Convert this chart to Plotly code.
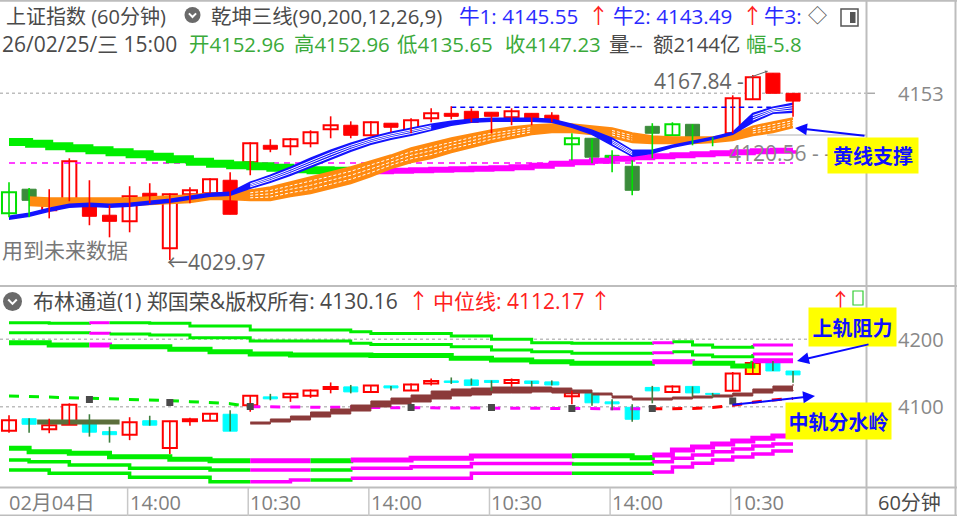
import plotly.graph_objects as go

W, H = 957, 516
FONT = "Open Sans, Noto Sans CJK SC"

# ---------------- data ----------------
BARS = list(range(40))
OPEN = [4064.4, 4082.2, 4066.7, 4073.3, 4074.8, 4063.0, 4058.5, 4079.2, 4038.6, 4078.5,
        4079.2, 4088.8, 4102.1, 4114.6, 4113.9, 4116.1, 4126.4, 4129.4, 4122.0, 4130.9,
        4124.2, 4134.5, 4138.2, 4139.7, 4139.0, 4135.3, 4138.2, 4136.8, 4115.4, 4119.8,
        4107.2, 4099.1, 4128.6, 4122.0, 4130.1, 4119.8, 4123.5, 4148.6, 4167.84, 4152.96]
HIGH = [4087.3, 4083.0, 4082.2, 4105.0, 4088.8, 4070.3, 4084.4, 4086.6, 4079.0, 4083.6,
        4090.3, 4094.7, 4116.8, 4119.1, 4120.0, 4125.7, 4136.0, 4132.3, 4132.3, 4130.9,
        4134.5, 4141.9, 4143.4, 4141.9, 4139.0, 4141.9, 4138.2, 4139.0, 4123.5, 4119.8,
        4110.9, 4103.6, 4130.9, 4131.6, 4130.1, 4120.5, 4151.5, 4166.5, 4167.84, 4152.96]
LOW = [4061.5, 4061.5, 4060.7, 4073.3, 4055.6, 4046.7, 4050.4, 4071.8, 4029.97, 4071.8,
       4079.2, 4063.7, 4092.5, 4109.5, 4107.2, 4113.1, 4119.8, 4119.8, 4121.3, 4124.2,
       4123.5, 4131.6, 4133.8, 4131.6, 4123.5, 4129.4, 4129.4, 4131.6, 4103.6, 4101.3,
       4094.7, 4077.7, 4105.0, 4122.0, 4114.6, 4113.9, 4123.5, 4148.6, 4153.0, 4135.65]
CLOSE = [4079.9, 4074.0, 4072.6, 4102.8, 4062.2, 4058.5, 4077.0, 4072.6, 4078.5, 4081.4,
         4089.5, 4063.7, 4116.1, 4111.7, 4119.1, 4124.2, 4129.4, 4122.0, 4131.6, 4127.9,
         4133.1, 4138.2, 4136.0, 4131.6, 4136.0, 4139.7, 4134.5, 4132.3, 4119.8, 4105.8,
         4104.3, 4081.4, 4123.5, 4130.1, 4120.5, 4118.3, 4149.3, 4164.8, 4153.0, 4147.23]
TOP_STYLE = ["gh", "gf", "rh", "rh", "rf", "rf", "rh", "rf", "rh", "rh",
             "rh", "rf", "rh", "rf", "rh", "rh", "rh", "rf", "rh", "rf",
             "rh", "rh", "rf", "rf", "rf", "rh", "rf", "rf", "gh", "gf",
             "gb", "gf", "gf", "gh", "gf", "gb", "rh", "rh", "rf", "rf"]
BOTTOM_SPECIAL = {37: "yellow"}

MA_LONG = [4117.1, 4115.7, 4113.9, 4112.4, 4110.9, 4109.5, 4108.0, 4106.1, 4104.3, 4102.4,
           4101.0, 4099.9, 4099.1, 4098.0, 4096.9, 4096.2, 4095.8, 4095.4, 4095.4, 4095.8,
           4096.2, 4096.5, 4096.9, 4097.3, 4097.6, 4098.4, 4099.5, 4101.0, 4102.1, 4103.2,
           4104.7, 4105.8, 4106.5, 4107.2, 4108.0, 4108.7, 4109.5, 4110.2, 4110.6, 4110.9]
MA_SWITCH = 17
BLUE_HI = [4062.2, 4064.4, 4068.1, 4071.1, 4071.8, 4071.1, 4071.8, 4073.3, 4074.8, 4077.0,
           4079.2, 4079.9, 4087.3, 4092.5, 4098.4, 4105.0, 4110.9, 4116.1, 4120.5, 4124.2,
           4127.2, 4130.1, 4132.3, 4133.8, 4134.5, 4134.5, 4134.5, 4133.8, 4130.1, 4125.7,
           4119.8, 4110.9, 4110.9, 4114.6, 4117.6, 4120.5, 4124.2, 4138.2, 4142.7, 4145.6]
BLUE_LO = [4060.0, 4062.2, 4065.9, 4068.9, 4069.6, 4068.9, 4069.6, 4071.1, 4072.6, 4074.8,
           4077.0, 4077.7, 4082.9, 4087.3, 4092.5, 4098.4, 4104.3, 4110.2, 4115.4, 4119.1,
           4122.0, 4125.7, 4129.4, 4131.6, 4132.3, 4132.3, 4132.3, 4131.6, 4127.9, 4122.7,
           4114.6, 4106.5, 4108.7, 4113.1, 4116.1, 4119.1, 4122.7, 4131.6, 4138.2, 4139.0]
ORANGE_HI = [None, 4076.3, 4075.5, 4075.5, 4075.5, 4075.5, 4075.5, 4076.3, 4077.0, 4077.7,
             4079.2, 4079.2, 4081.4, 4083.6, 4087.3, 4091.0, 4094.7, 4098.4, 4102.8, 4107.2,
             4112.4, 4116.1, 4119.8, 4122.7, 4125.7, 4127.9, 4129.4, 4130.1, 4130.1, 4128.6,
             4127.2, 4123.5, 4121.3, 4120.5, 4120.5, 4120.5, 4122.7, 4128.6, 4131.6, 4134.5]
ORANGE_LO = [None, 4070.3, 4069.6, 4070.3, 4070.3, 4070.3, 4070.3, 4071.1, 4071.8, 4072.6,
             4074.8, 4074.8, 4074.0, 4074.0, 4077.0, 4079.2, 4082.9, 4086.6, 4091.7, 4097.6,
             4102.1, 4105.0, 4109.5, 4113.1, 4116.8, 4119.8, 4122.7, 4124.2, 4124.2, 4122.7,
             4120.5, 4116.8, 4116.1, 4116.1, 4116.1, 4116.8, 4118.3, 4122.0, 4124.2, 4127.9]
TOP_PINK_LEVEL = 4101.5
TOP_BLUE_LEVEL = 4142.7
TOP_BLUE_START = 22

UPPER1 = [4224.6, 4224.6, 4223.7, 4223.7, 4224.6, 4224.6, 4224.6, 4223.7, 4223.7, 4219.7,
          4219.7, 4219.7, 4213.8, 4213.8, 4213.8, 4213.8, 4213.8, 4211.3, 4208.6, 4208.6,
          4208.6, 4208.6, 4204.9, 4204.9, 4200.0, 4200.0, 4195.0, 4195.0, 4194.1, 4194.1,
          4194.1, 4194.1, 4195.0, 4196.4, 4191.5, 4188.1, 4188.1, 4191.5, 4191.5, 4191.5]
UPPER2 = [4209.8, 4209.8, 4209.8, 4209.8, 4208.9, 4207.9, 4207.9, 4206.4, 4206.4, 4202.4,
          4202.4, 4202.4, 4197.5, 4197.5, 4197.5, 4197.5, 4197.5, 4194.1, 4192.3, 4192.3,
          4192.3, 4192.3, 4189.0, 4189.0, 4184.1, 4184.1, 4181.6, 4181.6, 4179.2, 4179.2,
          4179.2, 4179.2, 4180.1, 4181.6, 4176.7, 4174.2, 4174.2, 4178.2, 4178.2, 4178.2]
UPPER3 = [4195.0, 4195.0, 4191.5, 4191.5, 4191.5, 4189.0, 4189.0, 4189.0, 4185.2, 4185.2,
          4181.6, 4181.6, 4178.2, 4178.2, 4176.7, 4176.7, 4176.7, 4176.7, 4176.0, 4176.0,
          4176.0, 4176.0, 4171.8, 4171.8, 4169.3, 4169.3, 4166.8, 4166.8, 4164.4, 4164.4,
          4164.4, 4164.4, 4166.8, 4166.8, 4164.4, 4164.4, 4160.4, 4168.2, 4168.2, 4168.2]
LOWER1 = [4038.3, 4033.2, 4033.2, 4030.9, 4030.9, 4025.8, 4025.8, 4025.8, 4022.0, 4022.0,
          4019.9, 4019.9, 4019.9, 4019.9, 4019.9, 4019.9, 4019.9, 4020.9, 4020.9, 4020.9,
          4023.4, 4023.4, 4023.4, 4026.9, 4026.9, 4026.9, 4026.9, 4026.9, 4027.3, 4027.3,
          4027.3, 4024.3, 4028.3, 4035.7, 4040.2, 4044.7, 4049.1, 4053.1, 4056.5, 4056.5]
LOWER2 = [4020.9, 4018.4, 4018.4, 4013.5, 4013.5, 4013.5, 4008.6, 4008.6, 4008.6, 4008.6,
          4006.1, 4006.1, 4006.1, 4006.1, 4006.1, 4006.1, 4006.1, 4008.6, 4008.6, 4008.6,
          4011.0, 4011.0, 4011.0, 4015.9, 4015.9, 4015.9, 4015.9, 4015.9, 4014.9, 4014.9,
          4014.9, 4014.9, 4018.4, 4023.4, 4028.3, 4033.2, 4037.2, 4041.7, 4044.7, 4044.7]
LOWER3 = [4006.1, 4006.1, 4001.2, 4001.2, 4001.2, 4001.2, 3995.3, 3995.3, 3995.3, 3995.3,
          3988.7, 3988.7, 3988.7, 3988.7, 3991.2, 3991.2, 3991.2, 3993.8, 3993.8, 3993.8,
          3993.8, 3993.8, 3993.8, 4001.2, 4001.2, 4001.2, 4001.2, 4001.2, 4001.2, 4001.2,
          4001.2, 4001.2, 4003.0, 4010.5, 4016.0, 4020.9, 4025.4, 4029.8, 4034.3, 4034.3]
UPPER_SEG = "gggg" + "m" + "g" * 27 + "m" + "gggg" + "mm"
UPPER3_SEG = "gggg" + "m" + "g" * 27 + "mm" + "ggg" + "mm"
LOWER_SEG = "g" * 12 + "mmm" + "gg" + "m" * 11 + "gggg" + "m" * 7

MID_LINE = [4115.9, 4115.4, 4114.8, 4113.4, 4112.7, 4112.0, 4111.0, 4110.0, 4109.0, 4107.5,
            4106.0, 4104.5, 4100.0, 4099.6, 4099.4, 4099.2, 4099.0, 4098.8, 4098.7, 4098.6,
            4098.5, 4098.4, 4098.3, 4098.2, 4098.1, 4098.0, 4097.9, 4097.8, 4097.7, 4097.6,
            4097.4, 4097.2, 4096.8, 4096.6, 4097.5, 4099.0, 4102.0, 4106.5, 4110.0, 4112.17]
MID_COLOR = ["g"] * 12 + ["m"] * 20 + ["r"] * 8

BROWN_BARS = list(range(12, 40))
BROWN_HI = [4077.3, 4081.8, 4086.2, 4092.2, 4096.6, 4102.5, 4108.5, 4112.9, 4117.4, 4123.3,
            4126.3, 4127.7, 4129.2, 4129.2, 4129.2, 4127.7, 4124.8, 4120.3, 4115.9, 4112.9,
            4112.9, 4114.4, 4115.9, 4117.4, 4120.3, 4126.3, 4130.7, 4133.7]
BROWN_LO = [4074.3, 4077.3, 4080.3, 4084.7, 4089.2, 4093.6, 4099.6, 4104.0, 4107.0, 4111.4,
            4115.9, 4117.4, 4120.3, 4120.3, 4121.8, 4120.3, 4120.3, 4117.4, 4112.9, 4109.9,
            4109.9, 4111.4, 4112.9, 4114.4, 4115.9, 4120.3, 4123.3, 4124.8]
OLIVE_X = [1.4, 5.5]
OLIVE_Y = [4077.3, 4077.3]
DAY_MARK_BARS = [4, 8, 12, 20, 24, 28, 32, 36]
DAY_MARK_VALUES = [4110.7, 4106.2, 4100.3, 4098.8, 4098.8, 4097.3, 4097.3, 4108.5]

TICK_BARS = [0, 6, 12, 18, 24, 30, 36]
TICK_LABELS = ["02月04日", "14:00", "10:30", "14:00", "10:30", "14:00", "10:30"]
TOP_AXIS_TICKS = [4153]
BOT_AXIS_TICKS = [4200, 4100]

HIGH_LABEL = "4167.84"
LOW_LABEL = "4029.97"
MID_LABEL = "4120.56"


# ---------------- helpers ----------------
def px(x):
    return x / W


def py(y):
    return 1 - y / H


fig = go.Figure()
TOP = dict(xaxis="x", yaxis="y")
BOT = dict(xaxis="x2", yaxis="y2")
SEGC = {"g": "#00ee00", "m": "#ff00ff", "r": "#ff0000"}


def step_runs(vals, seg):
    runs, k, n = [], 0, len(seg)
    while k < n:
        c, j = seg[k], k
        while j + 1 < n and seg[j + 1] == c:
            j += 1
        xs = list(range(k, j + 2))
        ys = [vals[m] for m in range(k, j + 2)]
        runs.append((c, xs, ys))
        k = j + 1
    return runs


def ribbon(xs, hi, lo, color, width, thr, dash, axes):
    fig.add_trace(go.Scatter(x=xs, y=lo, mode="lines", line=dict(color=color, width=width),
                             hoverinfo="skip", **axes))
    fig.add_trace(go.Scatter(x=xs, y=hi, mode="lines", line=dict(color=color, width=width),
                             fill="tonexty", fillcolor=color, hoverinfo="skip", **axes))
    for f in (0.25, 0.5, 0.75):
        ys = [l + f * (h - l) if (h - l) >= thr else None for h, l in zip(hi, lo)]
        fig.add_trace(go.Scatter(x=xs, y=ys, mode="lines", connectgaps=False,
                                 line=dict(color="white", width=1, dash=dash),
                                 hoverinfo="skip", **axes))


# ---------------- top panel ----------------
fig.add_trace(go.Scatter(x=[BARS[0], BARS[-1]], y=[TOP_PINK_LEVEL] * 2, mode="lines",
                         line=dict(color="#ff00ff", width=1.5, dash="6px,5px"), **TOP))
fig.add_trace(go.Scatter(x=[TOP_BLUE_START, BARS[-1]], y=[TOP_BLUE_LEVEL] * 2, mode="lines",
                         line=dict(color="#0000ff", width=1.5, dash="5px,4px"), **TOP))
fig.add_trace(go.Scatter(x=BARS[:MA_SWITCH + 1], y=MA_LONG[:MA_SWITCH + 1], mode="lines",
                         line=dict(color="#00ee00", width=8, shape="hv"), **TOP))
fig.add_trace(go.Scatter(x=BARS[MA_SWITCH:], y=MA_LONG[MA_SWITCH:], mode="lines",
                         line=dict(color="#ff00ff", width=6, shape="hv"), **TOP))
ribbon(BARS[1:], ORANGE_HI[1:], ORANGE_LO[1:], "#ff8a10", 2, 6.5, "3px,2px", TOP)
ribbon(BARS, BLUE_HI, BLUE_LO, "#1414ff", 1.5, 4.0, "solid", TOP)

TOP_STY = {"rh": ("white", "#ff0000", 2, "#ff0000"),
           "rf": ("#ff0000", "#ff0000", 1, "#ff0000"),
           "gh": ("white", "#00e000", 2, "#00e000"),
           "gf": ("#3b8b3b", "#3b8b3b", 1, "#00e000"),
           "gb": ("#00e000", "#00e000", 1, "#00e000")}
BOT_STY = {"up": ("white", "#ff0000", 2, "#ff0000"),
           "down": ("#00ffff", "#00ffff", 1, "#3f7f3f"),
           "yellow": ("#ffff00", "#ff0000", 2, "#ff0000")}


def candles(styles, sty, axes):
    wick = {}
    for i in BARS:
        wc = sty[styles[i]][3]
        wick.setdefault(wc, ([], []))
        wick[wc][0].extend([i, i, None])
        wick[wc][1].extend([LOW[i], HIGH[i], None])
    for wc, (xs, ys) in wick.items():
        fig.add_trace(go.Scatter(x=xs, y=ys, mode="lines", line=dict(color=wc, width=1.6),
                                 hoverinfo="skip", **axes))
    fig.add_trace(go.Bar(
        x=BARS,
        base=[min(OPEN[i], CLOSE[i]) for i in BARS],
        y=[max(abs(CLOSE[i] - OPEN[i]), 0.9) for i in BARS],
        width=0.7,
        marker=dict(color=[sty[styles[i]][0] for i in BARS],
                    line=dict(color=[sty[styles[i]][1] for i in BARS],
                              width=[sty[styles[i]][2] for i in BARS])),
        hoverinfo="skip", **axes))


candles(TOP_STYLE, TOP_STY, TOP)

# ---------------- bottom panel ----------------
for vals, seg, wdt in ((UPPER1, UPPER_SEG, 3), (UPPER2, UPPER_SEG, 3), (UPPER3, UPPER3_SEG, 5),
                       (LOWER1, LOWER_SEG, 5), (LOWER2, LOWER_SEG, 3.5), (LOWER3, LOWER_SEG, 3.5)):
    for c, xs, ys in step_runs(vals, seg):
        fig.add_trace(go.Scatter(x=xs, y=ys, mode="lines",
                                 line=dict(color=SEGC[c], width=wdt, shape="hv"),
                                 hoverinfo="skip", **BOT))

k = 0
while k < len(BARS):
    c, j = MID_COLOR[k], k
    while j + 1 < len(BARS) and MID_COLOR[j + 1] == c:
        j += 1
    end = min(j + 1, len(BARS) - 1)
    fig.add_trace(go.Scatter(x=BARS[k:end + 1], y=MID_LINE[k:end + 1], mode="lines",
                             line=dict(color=SEGC[c], width=3, dash="10px,10px"),
                             hoverinfo="skip", **BOT))
    k = j + 1

fig.add_trace(go.Scatter(x=BROWN_BARS, y=BROWN_LO, mode="lines",
                         line=dict(color="#8b3a3a", width=1, shape="hv"), **BOT))
fig.add_trace(go.Scatter(x=BROWN_BARS, y=BROWN_HI, mode="lines", fill="tonexty",
                         fillcolor="#8b3a3a", line=dict(color="#8b3a3a", width=1, shape="hv"), **BOT))
fig.add_trace(go.Scatter(x=OLIVE_X, y=OLIVE_Y, mode="lines",
                         line=dict(color="#5b6e3b", width=5), **BOT))

bot_styles = [BOTTOM_SPECIAL.get(i, "up" if CLOSE[i] >= OPEN[i] else "down") for i in BARS]
candles(bot_styles, BOT_STY, BOT)

fig.add_trace(go.Scatter(x=DAY_MARK_BARS, y=DAY_MARK_VALUES, mode="markers",
                         marker=dict(symbol="square", size=7, color="#4a4a4a"), **BOT))

# ---------------- layout ----------------
XR = [-0.448, 42.63]
fig.update_layout(
    width=W, height=H, margin=dict(l=0, r=0, t=0, b=0),
    paper_bgcolor="white", plot_bgcolor="white", showlegend=False,
    barmode="overlay", hovermode=False,
    xaxis=dict(domain=[0, px(866)], range=XR, visible=False, anchor="y"),
    yaxis=dict(domain=[py(285), py(30)], range=[4011.5, 4199.7], visible=False, anchor="x"),
    xaxis2=dict(domain=[0, px(866)], range=XR, visible=False, anchor="y2", matches="x"),
    yaxis2=dict(domain=[py(487), py(288)], range=[3980.9, 4276.1], visible=False, anchor="x2"),
)

shapes = []
GRID = dict(color="#bdbdbd", width=1.5, dash="dot")
for v in TOP_AXIS_TICKS:
    shapes.append(dict(type="line", xref="paper", yref="y", x0=0, x1=px(866), y0=v, y1=v,
                       line=GRID, layer="below"))
    shapes.append(dict(type="line", xref="paper", yref="y", x0=px(867), x1=px(875), y0=v, y1=v,
                       line=dict(color="#aaaaaa", width=1.5)))
for v in BOT_AXIS_TICKS:
    shapes.append(dict(type="line", xref="paper", yref="y2", x0=0, x1=px(866), y0=v, y1=v,
                       line=GRID, layer="below"))
    shapes.append(dict(type="line", xref="paper", yref="y2", x0=px(867), x1=px(875), y0=v, y1=v,
                       line=dict(color="#aaaaaa", width=1.5)))
BORDER = dict(color="#bdbdbd", width=2)
for x0, y0, x1, y1 in ((866.5, 0, 866.5, 516), (955.5, 0, 955.5, 516), (0, 0.8, 957, 0.8),
                       (0, 286, 957, 286), (0, 487.5, 957, 487.5), (0, 515.5, 957, 515.5)):
    shapes.append(dict(type="line", xref="paper", yref="paper", x0=px(x0), x1=px(x1),
                       y0=py(y0), y1=py(y1), line=BORDER))
for b in TICK_BARS[1:]:
    shapes.append(dict(type="line", xref="x", yref="paper", x0=b - 0.1, x1=b - 0.1,
                       y0=py(516), y1=py(488), line=dict(color="#c8c8c8", width=1.5)))
shapes.append(dict(type="line", xref="paper", yref="paper", x0=px(767), x1=px(866),
                   y0=py(135), y1=py(135), line=dict(color="#b0b0b0", width=1)))
for cx, cy, r in ((192.5, 15, 8), (12.5, 301.5, 9.5)):
    shapes.append(dict(type="circle", xref="paper", yref="paper", x0=px(cx - r), x1=px(cx + r),
                       y0=py(cy + r), y1=py(cy - r), fillcolor="#6a6a6a", line=dict(width=0)))
    d = r * 0.45
    shapes.append(dict(type="path", xref="paper", yref="paper",
                       path=f"M {px(cx - d)} {py(cy - d * 0.45)} L {px(cx)} {py(cy + d * 0.55)} L {px(cx + d)} {py(cy - d * 0.45)}",
                       line=dict(color="white", width=2)))
shapes.append(dict(type="rect", xref="paper", yref="paper", x0=px(841), x1=px(858),
                   y0=py(26), y1=py(9), line=dict(color="#555555", width=1.5)))
shapes.append(dict(type="rect", xref="paper", yref="paper", x0=px(850), x1=px(855.5),
                   y0=py(23), y1=py(12), fillcolor="#555555", line=dict(width=0)))
shapes.append(dict(type="rect", xref="paper", yref="paper", x0=px(853), x1=px(863),
                   y0=py(305), y1=py(291), line=dict(color="#33cc33", width=1.2)))
fig.update_layout(shapes=shapes)

ANN = []


def txt(s, x, y, color, size=21, anchor="left"):
    ANN.append(dict(text=s, x=px(x), y=py(y), xref="paper", yref="paper", xanchor=anchor,
                    yanchor="middle", showarrow=False,
                    font=dict(family=FONT, size=size, color=color)))


BLUE_T = "#2a2aff"
GREEN_T = "#3aaa3a"
DARK = "#4a4a4a"
txt("上证指数 (60分钟)", 4, 16, DARK, 20)
txt("乾坤三线(90,200,12,26,9)", 209, 16, DARK, 20.4)
txt("牛1: 4145.55", 457, 16, BLUE_T, 20.6)
txt("↑", 586, 15, "#ff2020")
txt("牛2: 4143.49", 611, 16, BLUE_T, 20.6)
txt("↑", 740, 15, "#ff2020")
txt("牛3:", 762, 16, BLUE_T, 20.6)
txt("◇", 806, 16, "#555555", 19)

txt("26/02/25/三 15:00", 0, 44, DARK)
txt("开4152.96", 187, 44, GREEN_T, 20.4)
txt("高4152.96", 292, 44, GREEN_T, 20.4)
txt("低4135.65", 395, 44, GREEN_T, 20.4)
txt("收4147.23", 503, 44, GREEN_T, 20.4)
txt("量--", 607, 44, DARK, 20.4)
txt("额2144亿", 651, 44, DARK, 20.4)
txt("幅-5.8", 744, 44, GREEN_T, 20.4)

txt("布林通道(1) 郑国荣&版权所有: 4130.16", 31, 301, DARK)
txt("↑", 406, 300, "#ff2020")
txt("中位线: 4112.17", 431, 301, "#ff2020")
txt("↑", 588, 300, "#ff2020")
txt("↑", 828, 300, "#ff2020")

txt("用到未来数据", 0, 250, "#777777")
txt("←" + LOW_LABEL, 165, 262, "#666666")
txt(HIGH_LABEL + " -", 652, 81, "#666666")
txt(MID_LABEL + " - -", 727, 153, "#888888")
txt("60分钟", 876, 502, DARK, 20)

for v in TOP_AXIS_TICKS:
    ANN.append(dict(text=str(v), x=px(896), y=v, xref="paper", yref="y", xanchor="left",
                    yanchor="middle", showarrow=False, font=dict(family=FONT, size=20, color="#888888")))
for v in BOT_AXIS_TICKS:
    ANN.append(dict(text=str(v), x=px(896), y=v, xref="paper", yref="y2", xanchor="left",
                    yanchor="middle", showarrow=False, font=dict(family=FONT, size=20, color="#888888")))
for b, lab in zip(TICK_BARS, TICK_LABELS):
    ANN.append(dict(text=lab, x=b, y=py(502), xref="x", yref="paper", xanchor="left",
                    yanchor="middle", showarrow=False, xshift=-2,
                    font=dict(family=FONT, size=20, color="#808080")))

ANN.append(dict(text="", x=px(768), y=py(71), xref="paper", yref="paper", showarrow=True,
                ax=-20, ay=7, arrowhead=2, arrowsize=0.6, arrowwidth=1, arrowcolor="#666666",
                standoff=0, startstandoff=0))


def box(s, x0, y0, w, h):
    ANN.append(dict(text="<b>" + s + "</b>", x=px(x0), y=py(y0), xref="paper", yref="paper",
                    xanchor="left", yanchor="top", width=w, height=h, align="center",
                    valign="middle", bgcolor="#ffff00", borderpad=0, showarrow=False,
                    font=dict(family="Noto Sans CJK SC", size=20, color="#1010ff")))


def arrow(hx, hy, tx, ty):
    ANN.append(dict(text="", x=px(hx), y=py(hy), xref="paper", yref="paper", showarrow=True,
                    ax=tx - hx, ay=ty - hy, arrowhead=2, arrowsize=1.2, arrowwidth=2,
                    arrowcolor="#0a0aff", standoff=0, startstandoff=0))


box("黄线支撑", 827, 137, 90, 35)
box("上轨阻力", 808, 307, 87, 38)
box("中轨分水岭", 785, 402, 105, 36)
arrow(795, 128, 866, 136)
arrow(797, 361, 870, 344)
arrow(815, 396, 731, 405)

fig.update_layout(annotations=ANN)
fig.write_html("out.html", config={"displayModeBar": False},
               post_script="document.body.style.margin='0';document.body.style.padding='0';"
                           "document.body.style.overflow='hidden';")
